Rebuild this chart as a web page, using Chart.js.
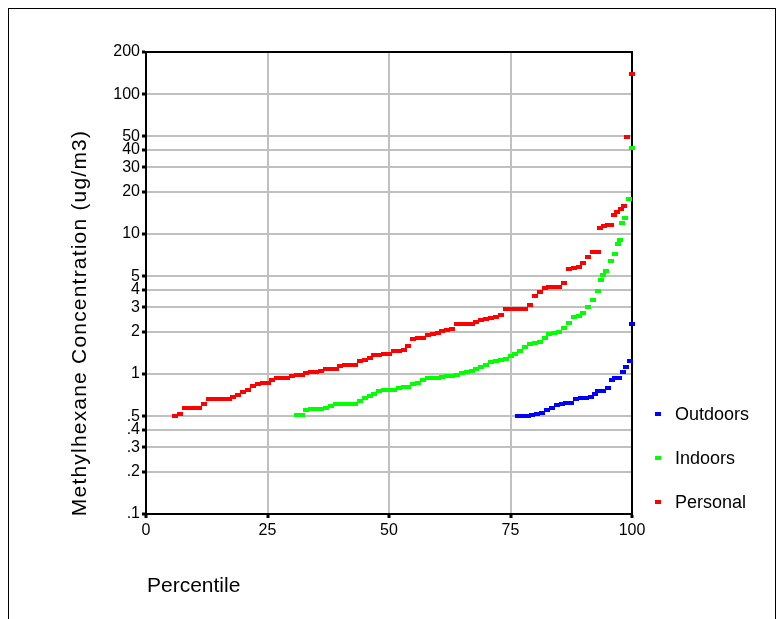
<!DOCTYPE html>
<html>
<head>
<meta charset="utf-8">
<title>Methylhexane percentiles</title>
<script src="https://cdn.jsdelivr.net/npm/chart.js@4.4.0/dist/chart.umd.min.js"></script>
<style>
  html, body { margin: 0; padding: 0; background: #fff; }
  #wrap { position: relative; width: 783px; height: 619px; }
</style>
</head>
<body>
<div id="wrap"><canvas id="chart" width="783" height="619"></canvas></div>
<script>
// values (percentile, ug/m3)
const personalPct = [
  6, 7, 8, 9, 10, 11, 12, 13, 14, 15,
  16, 17, 18, 19, 20, 21, 22, 23, 24, 25,
  26, 27, 28, 29, 30, 31, 32, 33, 34, 35,
  36, 37, 38, 39, 40, 41, 42, 43, 44, 45,
  46, 47, 48, 49, 50, 51, 52, 53, 54, 55,
  56, 57, 58, 59, 60, 61, 62, 63, 64, 65,
  66, 67, 68, 69, 70, 71, 72, 73, 74, 75,
  76, 77, 78, 79, 80, 81, 82, 83, 84, 85,
  86, 87, 88, 89, 90, 91, 92, 93, 93.4, 94.2,
  95, 95.7, 96.3, 97, 97.7, 98.3, 99.05, 99.9
];
const personalConc = [
  0.50, 0.52, 0.57, 0.57, 0.57, 0.57, 0.61, 0.66, 0.66, 0.66,
  0.66, 0.66, 0.69, 0.71, 0.74, 0.77, 0.82, 0.85, 0.87, 0.87,
  0.90, 0.93, 0.93, 0.93, 0.97, 0.98, 0.98, 1.02, 1.04, 1.04,
  1.06, 1.09, 1.09, 1.09, 1.14, 1.16, 1.16, 1.16, 1.23, 1.26,
  1.30, 1.37, 1.37, 1.38, 1.39, 1.45, 1.47, 1.49, 1.58, 1.78,
  1.80, 1.81, 1.90, 1.93, 1.95, 2.04, 2.06, 2.10, 2.28, 2.28,
  2.28, 2.28, 2.35, 2.44, 2.46, 2.50, 2.54, 2.62, 2.91, 2.91,
  2.91, 2.91, 2.93, 3.13, 3.60, 3.85, 4.10, 4.16, 4.16, 4.20,
  4.50, 5.60, 5.70, 5.80, 6.20, 6.90, 7.40, 7.50, 11.0, 11.5,
  11.6, 11.7, 13.7, 14.4, 15.1, 15.9, 49, 140
];

const indoorPct = [
  31, 32, 33, 34, 35, 36, 37, 38, 39, 40,
  41, 42, 43, 44, 45, 46, 47, 48, 49, 50,
  51, 52, 53, 54, 55, 56, 57, 58, 59, 60,
  61, 62, 63, 64, 65, 66, 67, 68, 69, 70,
  71, 72, 73, 74, 75, 76, 77, 78, 79, 80,
  81, 82, 83, 84, 85, 86, 87, 88, 89, 90,
  91, 92, 93, 93.6, 94.1, 94.7, 95.6, 96.4, 97.2, 97.6,
  98.0, 98.6, 99.4, 99.9
];
const indoorConc = [
  0.51, 0.51, 0.55, 0.56, 0.56, 0.56, 0.57, 0.59, 0.61, 0.61,
  0.61, 0.61, 0.61, 0.64, 0.67, 0.70, 0.72, 0.76, 0.77, 0.77,
  0.77, 0.80, 0.81, 0.81, 0.85, 0.87, 0.91, 0.93, 0.93, 0.93,
  0.96, 0.97, 0.97, 0.98, 1.02, 1.03, 1.06, 1.09, 1.12, 1.17,
  1.22, 1.24, 1.25, 1.29, 1.35, 1.38, 1.47, 1.55, 1.63, 1.68,
  1.70, 1.82, 1.93, 1.95, 2.00, 2.12, 2.33, 2.56, 2.60, 2.71,
  3.00, 3.40, 3.95, 4.71, 5.11, 5.47, 6.38, 7.26, 8.55, 9.00,
  12.1, 13.1, 17.9, 40.9
];

const outdoorPct = [
  76.5, 77.5, 78.5, 79.5, 80.5, 81.5, 82.5, 83.5, 84.5, 85.5,
  86.5, 87.5, 88.5, 89.5, 90.5, 91.5, 92.3, 93.0, 94.0, 95.0,
  95.8, 96.6, 97.4, 98.1, 98.7, 99.5, 99.9
];
const outdoorConc = [
  0.50, 0.50, 0.50, 0.51, 0.52, 0.53, 0.55, 0.57, 0.60, 0.61,
  0.62, 0.62, 0.66, 0.67, 0.67, 0.68, 0.72, 0.76, 0.76, 0.80,
  0.91, 0.93, 0.93, 1.03, 1.13, 1.24, 2.26
];

const xTicks = [0, 25, 50, 75, 100];
const yTicks = [0.1, 0.2, 0.3, 0.4, 0.5, 1, 2, 3, 4, 5, 10, 20, 30, 40, 50, 100, 200];
const yTickLabels = [".1", ".2", ".3", ".4", ".5", "1", "2", "3", "4", "5", "10", "20", "30", "40", "50", "100", "200"];

const seriesNames = ["Outdoors", "Indoors", "Personal"];
const seriesColors = ["#0000ff", "#00ff00", "#ff0000"];

(function(){
  const FONT = "'Liberation Sans', Arial, sans-serif";
  const pairs = (xs, ys) => xs.map((x, i) => ({ x, y: ys[i] }));
  const seriesData = [
    pairs(outdoorPct, outdoorConc),
    pairs(indoorPct, indoorConc),
    pairs(personalPct, personalConc)
  ];

  // small filled block used as point marker (a bit wider than tall)
  function marker(color){
    const c = document.createElement("canvas");
    c.width = 6;
    c.height = 4;
    const g = c.getContext("2d");
    g.fillStyle = color;
    g.fillRect(0, 0, 6, 4);
    return c;
  }

  // frame, plot box, axis titles and legend
  const decor = {
    id: "decor",
    beforeDraw(chart){
      const ctx = chart.ctx;
      ctx.save();
      ctx.fillStyle = "#fff";
      ctx.fillRect(0, 0, chart.width, chart.height);
      ctx.strokeStyle = "#000";
      ctx.lineWidth = 1;
      ctx.strokeRect(8.5, 8.5, 767, 700);
      ctx.restore();
    },
    beforeDatasetsDraw(chart){
      const { ctx, chartArea: a } = chart;
      ctx.save();
      ctx.strokeStyle = "#000";
      ctx.lineWidth = 2;
      ctx.strokeRect(a.left, a.top, a.right - a.left, a.bottom - a.top);
      ctx.restore();
    },
    afterDraw(chart){
      const ctx = chart.ctx;
      ctx.save();
      ctx.fillStyle = "#000";

      // x title, left aligned under the axis
      ctx.font = "21px " + FONT;
      ctx.textAlign = "left";
      ctx.textBaseline = "alphabetic";
      ctx.fillText("Percentile", 147, 592);

      // y title, rotated
      ctx.save();
      ctx.translate(86, 323);
      ctx.rotate(-Math.PI / 2);
      ctx.textAlign = "center";
      ctx.letterSpacing = "1.2px";
      ctx.fillText("Methylhexane Concentration (ug/m3)", 0, 0);
      ctx.restore();

      // legend
      ctx.font = "18px " + FONT;
      ctx.textBaseline = "middle";
      chart.data.datasets.forEach((ds, i) => {
        const y = 414 + i * 44;
        ctx.fillStyle = ds.borderColor;
        ctx.fillRect(655, y - 2, 6, 4);
        ctx.fillStyle = "#000";
        ctx.fillText(ds.label, 675, y + 1);
      });
      ctx.restore();
    }
  };

  const tickFont = { family: FONT, size: 16 };

  new Chart(document.getElementById("chart"), {
    type: "scatter",
    data: {
      datasets: seriesData.map((data, i) => ({
        label: seriesNames[i],
        data,
        backgroundColor: seriesColors[i],
        borderColor: seriesColors[i],
        borderWidth: 0,
        pointStyle: marker(seriesColors[i]),
        clip: false
      }))
    },
    options: {
      responsive: false,
      devicePixelRatio: 1,
      animation: false,
      events: [],
      layout: { padding: { left: 0, right: 151, top: 52, bottom: 0 } },
      plugins: {
        legend: { display: false },
        tooltip: { enabled: false }
      },
      scales: {
        x: {
          type: "linear",
          min: 0,
          max: 100,
          afterBuildTicks: (s) => { s.ticks = xTicks.map(v => ({ value: v })); },
          afterFit: (s) => { s.height = 105; },
          grid: { color: "#c0c0c0", lineWidth: 2, tickColor: "#000", tickLength: 4, tickWidth: 3 },
          border: { color: "#000", width: 2 },
          ticks: { color: "#000", font: tickFont, padding: 3, maxRotation: 0, autoSkip: false }
        },
        y: {
          type: "logarithmic",
          min: 0.1,
          max: 200,
          afterBuildTicks: (s) => { s.ticks = yTicks.map(v => ({ value: v })); },
          afterFit: (s) => { s.width = 146; },
          grid: { color: "#c0c0c0", lineWidth: 2, tickColor: "#000", tickLength: 4, tickWidth: 3 },
          border: { color: "#000", width: 2 },
          ticks: {
            color: "#000",
            font: tickFont,
            padding: 2,
            autoSkip: false,
            callback: (v, i) => yTickLabels[i]
          }
        }
      }
    },
    plugins: [decor]
  });
})();
</script>
</body>
</html>
